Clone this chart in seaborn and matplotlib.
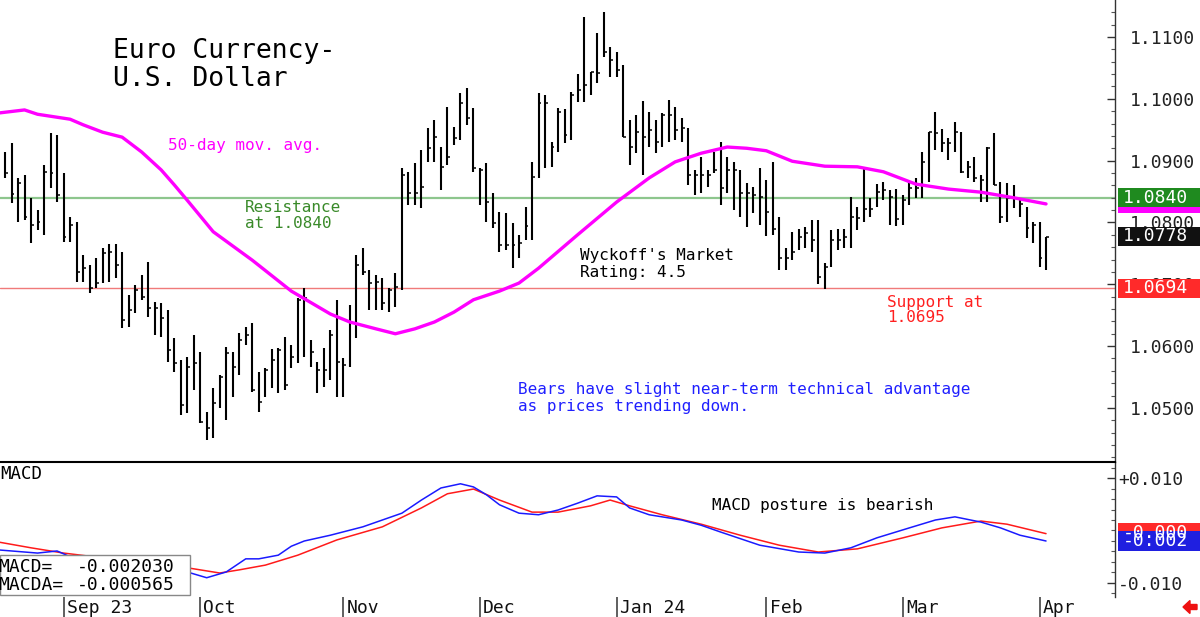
import numpy as np
import pandas as pd
import matplotlib
matplotlib.use('Agg')
import matplotlib.pyplot as plt
import matplotlib.transforms as mtransforms
from matplotlib.patches import Rectangle, FancyArrow
from matplotlib.ticker import MultipleLocator
import seaborn as sns

# daily bars (Aug 21 2023 .. Apr 2 2024)
high = [1.0914, 1.0929, 1.0872, 1.0877, 1.0840, 1.0820, 1.0893, 1.0945, 1.0942, 1.0880,
        1.0809, 1.0801, 1.0748, 1.0731, 1.0743, 1.0759, 1.0765, 1.0765, 1.0752, 1.0683,
        1.0699, 1.0715, 1.0736, 1.0672, 1.0670, 1.0659, 1.0613, 1.0578, 1.0583, 1.0618,
        1.0591, 1.0494, 1.0532, 1.0553, 1.0599, 1.0591, 1.0621, 1.0631, 1.0637, 1.0558,
        1.0565, 1.0596, 1.0597, 1.0615, 1.0602, 1.0678, 1.0694, 1.0610, 1.0575, 1.0597,
        1.0626, 1.0675, 1.0581, 1.0667, 1.0748, 1.0759, 1.0723, 1.0715, 1.0710, 1.0694,
        1.0718, 1.0888, 1.0882, 1.0896, 1.0917, 1.0953, 1.0966, 1.0922, 1.0987, 1.0954,
        1.1009, 1.1018, 1.0985, 1.0888, 1.0896, 1.0848, 1.0817, 1.0815, 1.0799, 1.0780,
        1.0825, 1.0898, 1.1009, 1.1006, 1.0930, 1.0985, 1.0984, 1.1011, 1.1040, 1.1132,
        1.1043, 1.1106, 1.1140, 1.1084, 1.1076, 1.1055, 1.0966, 1.0974, 1.0997, 1.0979,
        1.0966, 1.0977, 1.0998, 1.0987, 1.0969, 1.0953, 1.0885, 1.0906, 1.0885, 1.0914,
        1.0930, 1.0906, 1.0898, 1.0885, 1.0864, 1.0857, 1.0888, 1.0869, 1.0898, 1.0809,
        1.0759, 1.0785, 1.0790, 1.0793, 1.0804, 1.0804, 1.0735, 1.0788, 1.0790, 1.0790,
        1.0841, 1.0825, 1.0890, 1.0840, 1.0862, 1.0866, 1.0853, 1.0854, 1.0845, 1.0866,
        1.0872, 1.0914, 1.0946, 1.0979, 1.0951, 1.0937, 1.0963, 1.0946, 1.0900, 1.0906,
        1.0877, 1.0922, 1.0945, 1.0866, 1.0864, 1.0861, 1.0836, 1.0825, 1.0801, 1.0801,
        1.0777]
low = [1.0872, 1.0832, 1.0801, 1.0804, 1.0767, 1.0788, 1.0780, 1.0856, 1.0833, 1.0769,
       1.0769, 1.0704, 1.0704, 1.0686, 1.0694, 1.0702, 1.0704, 1.0710, 1.0629, 1.0631,
       1.0654, 1.0675, 1.0647, 1.0618, 1.0615, 1.0574, 1.0558, 1.0489, 1.0492, 1.0529,
       1.0476, 1.0448, 1.0452, 1.0500, 1.0481, 1.0518, 1.0553, 1.0602, 1.0526, 1.0494,
       1.0518, 1.0532, 1.0524, 1.0529, 1.0565, 1.0573, 1.0583, 1.0566, 1.0524, 1.0534,
       1.0545, 1.0518, 1.0518, 1.0566, 1.0613, 1.0715, 1.0659, 1.0659, 1.0659, 1.0655,
       1.0664, 1.0691, 1.0828, 1.0828, 1.0823, 1.0898, 1.0898, 1.0853, 1.0893, 1.0925,
       1.0933, 1.0958, 1.0882, 1.0828, 1.0801, 1.0791, 1.0752, 1.0756, 1.0726, 1.0743,
       1.0772, 1.0772, 1.0872, 1.0888, 1.0890, 1.0914, 1.0928, 1.0933, 1.0995, 1.0995,
       1.1006, 1.1025, 1.1068, 1.1035, 1.1035, 1.0938, 1.0893, 1.0912, 1.0877, 1.0922,
       1.0912, 1.0922, 1.0930, 1.0933, 1.0930, 1.0861, 1.0845, 1.0848, 1.0857, 1.0880,
       1.0828, 1.0848, 1.0820, 1.0809, 1.0793, 1.0815, 1.0796, 1.0778, 1.0780, 1.0723,
       1.0723, 1.0739, 1.0756, 1.0759, 1.0752, 1.0701, 1.0692, 1.0728, 1.0756, 1.0759,
       1.0759, 1.0788, 1.0801, 1.0809, 1.0825, 1.0836, 1.0796, 1.0794, 1.0796, 1.0828,
       1.0840, 1.0840, 1.0866, 1.0917, 1.0914, 1.0901, 1.0914, 1.0880, 1.0872, 1.0866,
       1.0833, 1.0833, 1.0861, 1.0799, 1.0801, 1.0823, 1.0809, 1.0775, 1.0767, 1.0728,
       1.0723]
close = [1.0880, 1.0846, 1.0864, 1.0809, 1.0796, 1.0801, 1.0882, 1.0880, 1.0845, 1.0777,
         1.0796, 1.0720, 1.0726, 1.0694, 1.0702, 1.0751, 1.0752, 1.0731, 1.0642, 1.0659,
         1.0691, 1.0680, 1.0662, 1.0662, 1.0646, 1.0594, 1.0573, 1.0505, 1.0567, 1.0573,
         1.0478, 1.0468, 1.0508, 1.0550, 1.0589, 1.0567, 1.0610, 1.0618, 1.0529, 1.0510,
         1.0562, 1.0578, 1.0594, 1.0537, 1.0583, 1.0675, 1.0678, 1.0591, 1.0562, 1.0562,
         1.0618, 1.0575, 1.0570, 1.0637, 1.0731, 1.0720, 1.0702, 1.0704, 1.0670, 1.0691,
         1.0696, 1.0877, 1.0848, 1.0848, 1.0857, 1.0920, 1.0938, 1.0890, 1.0906, 1.0937,
         1.0993, 1.0969, 1.0888, 1.0885, 1.0833, 1.0799, 1.0764, 1.0764, 1.0764, 1.0767,
         1.0794, 1.0874, 1.0993, 1.0993, 1.0922, 1.0979, 1.0941, 1.1006, 1.1014, 1.1022,
         1.1043, 1.1042, 1.1075, 1.1063, 1.1047, 1.0938, 1.0922, 1.0946, 1.0938, 1.0950,
         1.0930, 1.0974, 1.0974, 1.0950, 1.0953, 1.0877, 1.0877, 1.0877, 1.0877, 1.0885,
         1.0856, 1.0885, 1.0885, 1.0848, 1.0848, 1.0844, 1.0841, 1.0817, 1.0790, 1.0743,
         1.0743, 1.0752, 1.0777, 1.0783, 1.0772, 1.0712, 1.0728, 1.0772, 1.0772, 1.0777,
         1.0809, 1.0807, 1.0822, 1.0822, 1.0850, 1.0853, 1.0841, 1.0806, 1.0836, 1.0856,
         1.0856, 1.0898, 1.0946, 1.0944, 1.0929, 1.0929, 1.0946, 1.0882, 1.0890, 1.0872,
         1.0869, 1.0920, 1.0861, 1.0809, 1.0840, 1.0840, 1.0830, 1.0791, 1.0796, 1.0743,
         1.0777]

# 50-day moving average, sampled along the curve
ma_bar = [-1, 3, 5, 10, 12, 15, 18, 21, 24, 26, 28, 32, 38, 44, 50, 53, 57, 60, 63, 66,
          69, 72, 76, 79, 82, 88, 94, 99, 103, 107, 111, 114, 117, 121, 126, 131, 135,
          140, 145, 150, 155, 160]
ma_val = [1.0977, 1.0982, 1.0975, 1.0967, 1.0958, 1.0946, 1.0938, 1.0914, 1.0885, 1.0861,
          1.0836, 1.0785, 1.0739, 1.0689, 1.0652, 1.0639, 1.0628, 1.0620, 1.0628, 1.0639,
          1.0655, 1.0675, 1.0689, 1.0702, 1.0726, 1.0780, 1.0833, 1.0872, 1.0898, 1.0912,
          1.0922, 1.0920, 1.0916, 1.0899, 1.0891, 1.0890, 1.0882, 1.0862, 1.0854, 1.0849,
          1.0840, 1.0830]

# MACD (blue) and its average (red)
macd_bar = [-1, 5, 8, 10, 14, 19, 24, 28, 31, 34, 37, 39, 42, 44, 46, 50, 55, 58, 61, 64,
            67, 70, 72, 74, 76, 79, 82, 85, 88, 91, 94, 96, 99, 104, 107, 110, 116, 122,
            126, 130, 134, 139, 143, 146, 150, 153, 156, 160]
macd_val = [-0.0037, -0.0043, -0.0039, -0.0050, -0.0056, -0.0066, -0.0071, -0.0079,
            -0.0090, -0.0079, -0.0054, -0.0054, -0.0047, -0.0030, -0.0020, -0.0009,
            0.0007, 0.0020, 0.0033, 0.0058, 0.0081, 0.0089, 0.0083, 0.0068, 0.0049,
            0.0033, 0.0030, 0.0039, 0.0052, 0.0066, 0.0064, 0.0043, 0.0030, 0.0020,
            0.0010, -0.0003, -0.0028, -0.0041, -0.0043, -0.0033, -0.0014, 0.0005,
            0.0020, 0.0026, 0.0016, 0.0005, -0.0009, -0.0020]
macda_bar = [-1, 4, 9, 15, 22, 28, 33, 36, 40, 45, 51, 58, 64, 68, 72, 76, 81, 85, 90, 93,
             96, 101, 107, 113, 119, 125, 131, 138, 144, 150, 154, 160]
macda_val = [-0.0022, -0.0033, -0.0043, -0.0052, -0.0061, -0.0071, -0.0081, -0.0075,
             -0.0066, -0.0047, -0.0018, 0.0007, 0.0043, 0.0070, 0.0079, 0.0058, 0.0035,
             0.0035, 0.0047, 0.0058, 0.0047, 0.0030, 0.0012, -0.0009, -0.0028, -0.0041,
             -0.0035, -0.0014, 0.0005, 0.0018, 0.0012, -0.0006]

month_bar = [9, 30, 52, 73, 94, 117, 138, 159]
month_lab = ['Sep 23', 'Oct', 'Nov', 'Dec', 'Jan 24', 'Feb', 'Mar', 'Apr']

price_ticks = [1.05, 1.06, 1.07, 1.08, 1.09, 1.10, 1.11]
macd_ticks = [-0.01, 0.01]
macd_tick_lab = ['-0.010', '+0.010']

resistance = 1.0840
support = 1.0694
last_close = 1.0778
ma_last = 1.0828
macd_last = -0.002030
macda_last = -0.000565

sns.set_style('white')
plt.rcParams['font.family'] = ['DejaVu Sans Mono', 'DejaVu Sans']

W, H = 1200, 617
fig = plt.figure(figsize=(12, 6.17), dpi=100)


def fx(px):
    return px / W


def fy(py):
    return 1 - py / H


ax = fig.add_axes([0, fy(462), fx(1115), 462 / H])
ax2 = fig.add_axes([0, fy(597), fx(1115), 135 / H])

df = pd.DataFrame({'high': high, 'low': low, 'close': close})
df['bar'] = np.arange(len(df))

# support / resistance
ax.axhline(resistance, color='#8dc68d', lw=1.6, zorder=0)
ax.axhline(support, color='#f07a7a', lw=1.0, zorder=0)

# price bars
ax.vlines(df['bar'], df['low'], df['high'], color='black', lw=1.5, zorder=2)
ax.hlines(df['close'], df['bar'], df['bar'] + 0.45, color='black', lw=1.1, zorder=2)

sns.lineplot(x=ma_bar, y=ma_val, ax=ax, color='#ff00ff', lw=2.4, sort=False,
             estimator=None, zorder=3)

sns.lineplot(x=macda_bar, y=macda_val, ax=ax2, color='#ff1a1a', lw=1.1, sort=False,
             estimator=None)
sns.lineplot(x=macd_bar, y=macd_val, ax=ax2, color='#1a1aff', lw=1.1, sort=False,
             estimator=None)

xlim = (-0.77, 170.6)
ax.set_xlim(xlim)
ax2.set_xlim(xlim)
ax.set_ylim(1.04126, 1.11598)
ax2.set_ylim(-0.01267, 0.01305)

for a in (ax, ax2):
    for s in ('left', 'bottom', 'top'):
        a.spines[s].set_visible(False)
    a.spines['right'].set_color('#333333')
    a.spines['right'].set_linewidth(1.0)
    a.yaxis.tick_right()
    a.set_xlabel('')
    a.set_ylabel('')
ax2.spines['top'].set_visible(True)
ax2.spines['top'].set_color('black')
ax2.spines['top'].set_linewidth(1.5)

ax.set_xticks([])
ax.set_yticks(price_ticks)
ax.set_yticklabels([f'{v:.4f}' for v in price_ticks])
ax.yaxis.set_minor_locator(MultipleLocator(0.002))
ax.tick_params(axis='y', which='major', direction='in', length=6, width=1, pad=11,
               labelsize=13, labelcolor='#222222', color='#333333')
ax.tick_params(axis='y', which='minor', direction='in', length=3, width=0.8, color='#555555')

ax2.set_yticks(macd_ticks)
ax2.set_yticklabels(macd_tick_lab)
ax2.yaxis.set_minor_locator(MultipleLocator(0.002))
ax2.tick_params(axis='y', which='major', direction='in', length=6, width=1, pad=2,
                labelsize=13, labelcolor='#222222', color='#333333')
ax2.tick_params(axis='y', which='minor', direction='in', length=3, width=0.8, color='#555555')

ax2.set_xticks(month_bar)
ax2.set_xticklabels([])
ax2.tick_params(axis='x', direction='out', length=14.4, width=1.2, color='#444444',
                bottom=True)
bl2 = mtransforms.blended_transform_factory(ax2.transData, ax2.transAxes)
for b, lab in zip(month_bar, month_lab):
    ax2.text(b + 0.5, -0.118, lab, transform=bl2, ha='left', va='baseline',
             fontsize=13, color='#111111', clip_on=False)

# value boxes on the right axis
ppx = 6183.0   # pixels per price unit
mpx = 5250.0   # pixels per macd unit


def value_box(a, val, txt, fc, hpx, scale, tc='white', fs=13):
    bt = mtransforms.blended_transform_factory(a.transAxes, a.transData)
    h = hpx / scale
    a.add_patch(Rectangle((1118 / 1115, val - h / 2), 82 / 1115, h, transform=bt,
                          facecolor=fc, edgecolor='none', clip_on=False, zorder=6))
    if txt:
        a.text(1123 / 1115, val, txt, transform=bt, ha='left', va='center',
               fontsize=fs, color=tc, clip_on=False, zorder=7)


value_box(ax, ma_last, '', '#ff00ff', 15, ppx)
value_box(ax, resistance, f'{resistance:.4f}', '#1f8a1f', 19, ppx)
value_box(ax, last_close, f'{last_close:.4f}', '#111111', 19, ppx)
value_box(ax, support, f'{support:.4f}', '#ff2a2a', 19, ppx)
value_box(ax2, macda_last, '-0.000', '#ff2a2a', 20, mpx)
value_box(ax2, macd_last, f'{macd_last:.3f}', '#1f1fe0', 20, mpx)

# annotations
notes = [
    ('Euro Currency-', 113, 58, 19, 'black'),
    ('U.S. Dollar', 113, 86, 19, 'black'),
    ('50-day mov. avg.', 168, 150, 11.5, '#ff00ff'),
    ('Resistance', 245, 212, 11.5, '#3a8a2a'),
    ('at 1.0840', 245, 228, 11.5, '#3a8a2a'),
    ("Wyckoff's Market", 580, 260, 11.5, 'black'),
    ('Rating: 4.5', 580, 277, 11.5, 'black'),
    ('Support at', 887, 307, 11.5, '#ff2020'),
    ('1.0695', 887, 322, 11.5, '#ff2020'),
    ('Bears have slight near-term technical advantage', 518, 394, 11.5, '#2020ff'),
    ('as prices trending down.', 518, 411, 11.5, '#2020ff'),
    ('MACD posture is bearish', 712, 510, 11.5, 'black'),
    ('MACD', 0, 479, 12.5, 'black'),
]
for txt, x, y, fs, c in notes:
    fig.text(fx(x), fy(y), txt, fontsize=fs, color=c, ha='left', va='baseline')

# MACD readout box
fig.add_artist(Rectangle((fx(0), fy(595)), fx(190), 40 / H, transform=fig.transFigure,
                         facecolor='white', edgecolor='#888888', lw=1.0, zorder=4))
fig.text(fx(-2), fy(572), 'MACD=', fontsize=13, color='black', zorder=5)
fig.text(fx(77), fy(572), f'{macd_last:.6f}', fontsize=13, color='black', zorder=5)
fig.text(fx(-2), fy(590), 'MACDA=', fontsize=13, color='black', zorder=5)
fig.text(fx(77), fy(590), f'{macda_last:.6f}', fontsize=13, color='black', zorder=5)

fig.add_artist(FancyArrow(fx(1197), fy(607), -fx(14), 0, width=5 / H, head_width=13 / H,
                          head_length=fx(7), length_includes_head=True,
                          transform=fig.transFigure, color='#ee1111', zorder=5))

fig.savefig('out.png', dpi=100)
